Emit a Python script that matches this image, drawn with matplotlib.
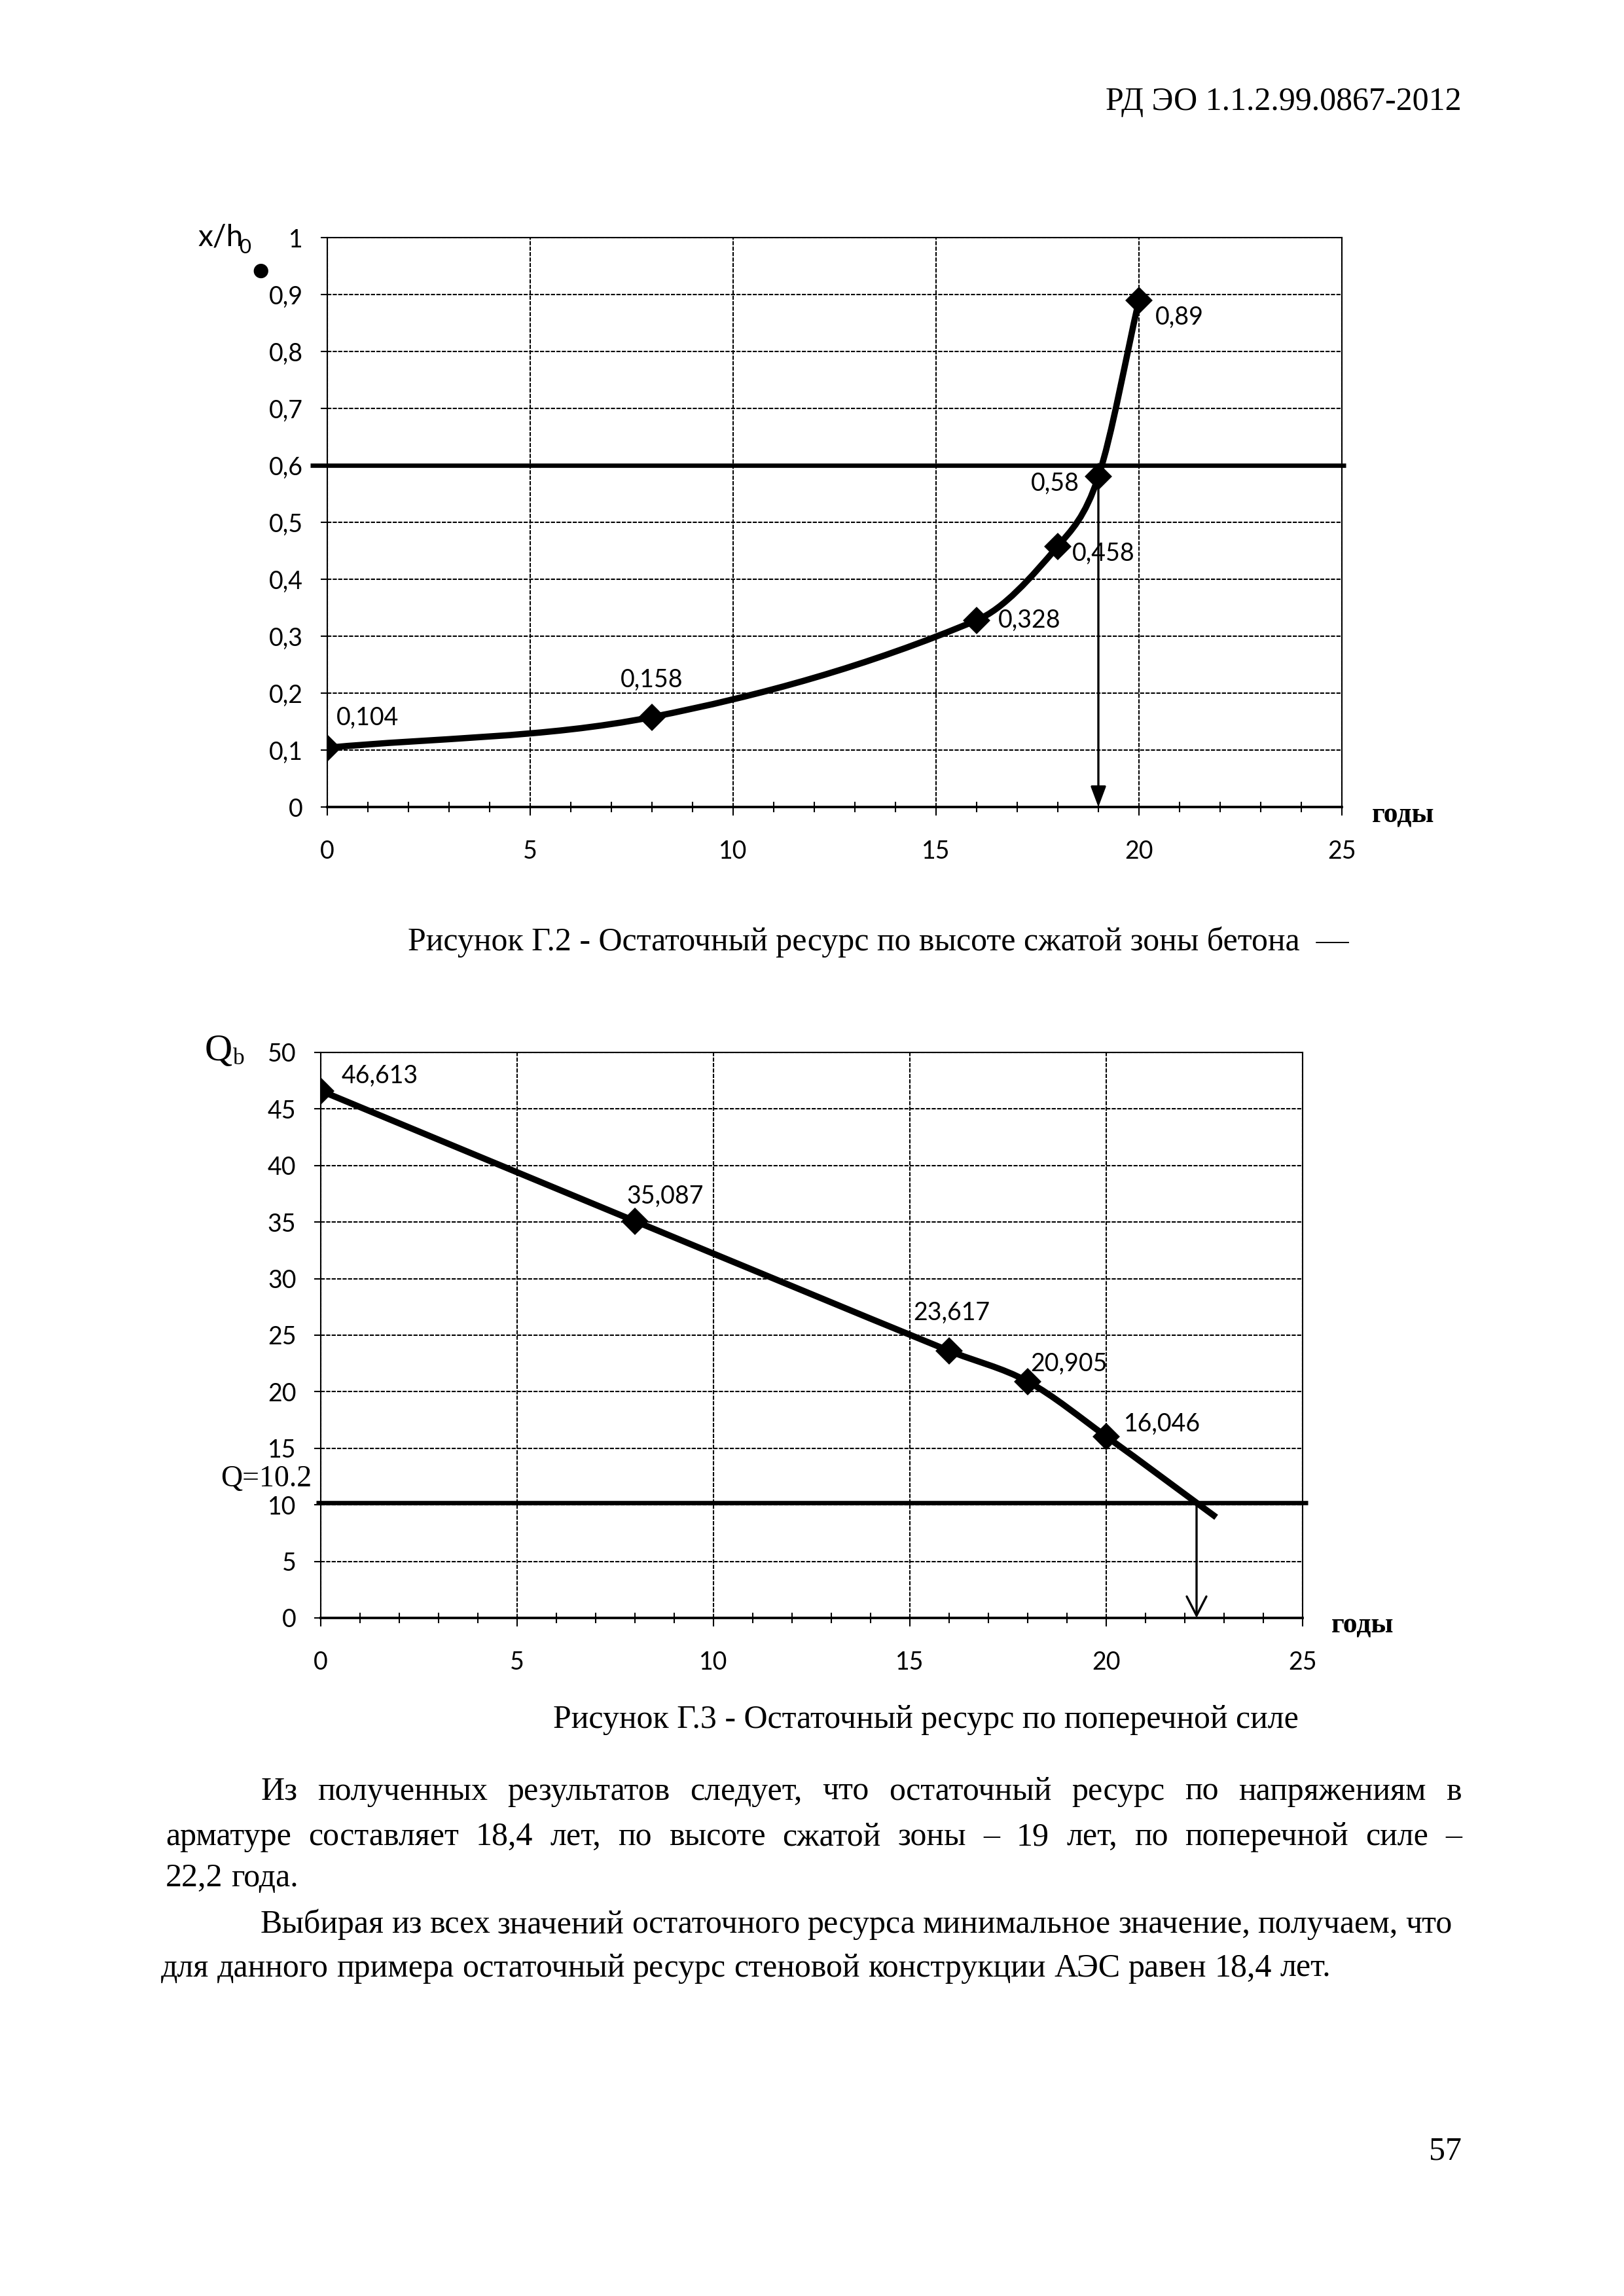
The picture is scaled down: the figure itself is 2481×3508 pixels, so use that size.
import numpy as np
import matplotlib
matplotlib.use('Agg')
import matplotlib.pyplot as plt
from matplotlib.path import Path
from matplotlib.patches import PathPatch
from matplotlib.ticker import MultipleLocator, FuncFormatter

# ---------------- data ----------------
years_xh = [0, 8, 16, 18, 19, 20]
xh_values = [0.104, 0.158, 0.328, 0.458, 0.58, 0.89]
xh_labels = ['0,104', '0,158', '0,328', '0,458', '0,58', '0,89']
xh_limit = 0.6
xh_resource_year = 19

years_q = [0, 8, 16, 18, 20]
q_values = [46.613, 35.087, 23.617, 20.905, 16.046]
q_labels = ['46,613', '35,087', '23,617', '20,905', '16,046']
q_ext_year = 22.8
q_ext_value = 8.9
q_limit = 10.2
q_resource_year = 22.3

x_ticks = [0, 5, 10, 15, 20, 25]

# label offsets (points) and alignment
xh_label_offsets = [(3.4, 11), (0, 13.7), (8, 0), (5.3, -2.8), (-7, -2.4), (6, -6.3)]
xh_label_ha = ['left', 'center', 'left', 'left', 'right', 'left']
q_label_offsets = [(7.5, 5.4), (-3, 9), (-13.2, 14), (1, 6.5), (6.5, 4.6)]

W, H = 2481, 3508
fig = plt.figure(figsize=(W / 300, H / 300), dpi=300)
fig.patch.set_facecolor('white')

SANS = 'Lato'
SERIF = 'Liberation Serif'
GRID_LS = (0, (3, 1))


def smooth_path(xs, ys):
    """Cubic Hermite (as Bezier segments) through the points, y as a function of x."""
    x = np.asarray(xs, float)
    y = np.asarray(ys, float)
    n = len(x)
    m = np.zeros(n)
    for i in range(n):
        if i == 0:
            m[i] = (y[1] - y[0]) / (x[1] - x[0])
        elif i == n - 1:
            m[i] = (y[-1] - y[-2]) / (x[-1] - x[-2])
        else:
            m[i] = (y[i + 1] - y[i - 1]) / (x[i + 1] - x[i - 1])
    verts = [(x[0], y[0])]
    codes = [Path.MOVETO]
    for i in range(n - 1):
        h = x[i + 1] - x[i]
        verts += [(x[i] + h / 3, y[i] + m[i] * h / 3),
                  (x[i + 1] - h / 3, y[i + 1] - m[i + 1] * h / 3),
                  (x[i + 1], y[i + 1])]
        codes += [Path.CURVE4] * 3
    return Path(verts, codes)


def fmt(v, pos):
    return ('%g' % round(v, 6)).replace('.', ',')


def style_axes(ax, ymax, ystep):
    ax.set_xlim(0, 25)
    ax.set_ylim(0, ymax)
    ax.set_xticks(x_ticks)
    ax.xaxis.set_minor_locator(MultipleLocator(1))
    ax.yaxis.set_major_locator(MultipleLocator(ystep))
    ax.xaxis.set_major_formatter(FuncFormatter(fmt))
    ax.yaxis.set_major_formatter(FuncFormatter(fmt))
    ax.grid(True, which='major', color='black', lw=0.5, ls=GRID_LS)
    ax.tick_params(axis='x', which='major', direction='out', length=3, width=0.5,
                   pad=9, labelsize=9)
    ax.tick_params(axis='x', which='minor', direction='inout', length=4, width=0.5)
    ax.tick_params(axis='y', which='major', direction='out', length=2.5, width=0.5,
                   pad=6.5, labelsize=9)
    for lab in ax.get_xticklabels() + ax.get_yticklabels():
        lab.set_fontfamily(SANS)
    for s in ['left', 'top', 'right']:
        ax.spines[s].set_linestyle(GRID_LS)
        ax.spines[s].set_linewidth(0.5)
    ax.spines['bottom'].set_linewidth(0.9)
    ax.set_axisbelow(True)


# ---------------- chart 1 ----------------
ax1 = fig.add_axes([500 / W, 1 - 1233 / H, 1550 / W, 870 / H])
style_axes(ax1, 1, 0.1)
ax1.plot([-0.42, 25.1], [xh_limit, xh_limit], color='black', lw=1.6, clip_on=False,
         solid_capstyle='butt', zorder=3)
ax1.add_patch(PathPatch(smooth_path(years_xh, xh_values), facecolor='none',
                        edgecolor='black', lw=2.3, zorder=4))
ax1.plot(years_xh, xh_values, ls='none', marker='D', ms=6, color='black', zorder=5)
for xv, yv, lab, off, ha in zip(years_xh, xh_values, xh_labels, xh_label_offsets, xh_label_ha):
    ax1.annotate(lab, (xv, yv), xytext=off, textcoords='offset points', ha=ha, va='center',
                 fontsize=9, family=SANS, zorder=6)
ax1.annotate('', xy=(xh_resource_year, 0), xytext=(xh_resource_year, xh_values[4]),
             arrowprops=dict(arrowstyle='-|>,head_length=0.32,head_width=0.12',
                             color='black', lw=0.8, shrinkA=0, shrinkB=0, mutation_scale=20),
             annotation_clip=False, zorder=6)

fig.text(302 / W, 1 - 362 / H, 'x/h', fontsize=11, family=SANS, ha='left', va='center')
fig.text(365 / W, 1 - 378 / H, '0', fontsize=7.5, family=SANS, ha='left', va='center')
fig.text(398 / W, 1 - 414 / H, '●', fontsize=7, family='DejaVu Sans', ha='center', va='center')
fig.text(2096 / W, 1 - 1246 / H, 'годы', fontsize=10.5, family=SERIF, weight='bold',
         ha='left', va='center')

# ---------------- chart 2 ----------------
ax2 = fig.add_axes([490 / W, 1 - 2472 / H, 1500 / W, 864 / H])
style_axes(ax2, 50, 5)
ax2.plot([-0.12, 25.13], [q_limit, q_limit], color='black', lw=1.6, clip_on=False,
         solid_capstyle='butt', zorder=3)
ax2.add_patch(PathPatch(smooth_path(years_q + [q_ext_year], q_values + [q_ext_value]),
                        facecolor='none', edgecolor='black', lw=2.3, zorder=4))
ax2.plot(years_q, q_values, ls='none', marker='D', ms=6, color='black', zorder=5)
for xv, yv, lab, off in zip(years_q, q_values, q_labels, q_label_offsets):
    ax2.annotate(lab, (xv, yv), xytext=off, textcoords='offset points', ha='left', va='center',
                 fontsize=9, family=SANS, zorder=6)
ax2.annotate('', xy=(q_resource_year, 0), xytext=(q_resource_year, q_limit),
             arrowprops=dict(arrowstyle='->,head_length=0.35,head_width=0.18',
                             color='black', lw=0.8, shrinkA=0, shrinkB=0, mutation_scale=20),
             annotation_clip=False, zorder=6)

fig.text(313 / W, 1 - 1606 / H, 'Q', fontsize=14, family=SERIF, ha='left', va='center')
fig.text(356 / W, 1 - 1617 / H, 'b', fontsize=8.5, family=SERIF, ha='left', va='center')
fig.text(476 / W, 1 - 2260 / H, 'Q=10.2', fontsize=11, family=SERIF, ha='right', va='center')
fig.text(2034 / W, 1 - 2483 / H, 'годы', fontsize=10.5, family=SERIF, weight='bold',
         ha='left', va='center')

# ---------------- page texts ----------------
fig.text(2233 / W, 1 - 168 / H, 'РД ЭО 1.1.2.99.0867-2012', fontsize=12, family=SERIF,
         ha='right', va='baseline')
fig.text(1342 / W, 1 - 1452 / H,
         'Рисунок Г.2 - Остаточный ресурс по высоте сжатой зоны бетона  —',
         fontsize=12, family=SERIF, ha='center', va='baseline')
fig.text(1414 / W, 1 - 2640 / H, 'Рисунок Г.3 - Остаточный ресурс по поперечной силе',
         fontsize=12, family=SERIF, ha='center', va='baseline')
fig.text(2233 / W, 1 - 3300 / H, '57', fontsize=12, family=SERIF, ha='right', va='baseline')

renderer = fig.canvas.get_renderer()


def put_line(line, x0, x1, y, justify=True, size=12):
    words = line.split(' ')
    texts = [fig.text(0, y, w, fontsize=size, family=SERIF, ha='left', va='baseline')
             for w in words]
    widths = [t.get_window_extent(renderer).width / fig.bbox.width for t in texts]
    if justify and len(words) > 1:
        gap = (x1 - x0 - sum(widths)) / (len(words) - 1)
    else:
        sp = fig.text(0, y, 'a a', fontsize=size, family=SERIF)
        sa = fig.text(0, y, 'aa', fontsize=size, family=SERIF)
        gap = (sp.get_window_extent(renderer).width - sa.get_window_extent(renderer).width) / fig.bbox.width
        sp.remove(); sa.remove()
    x = x0
    for t, w in zip(texts, widths):
        t.set_x(x)
        x += w + gap


body_lines = [
    ('Из полученных результатов следует, что остаточный ресурс по напряжениям в', 398, 2233, 2750, True),
    ('арматуре составляет 18,4 лет, по высоте сжатой зоны – 19 лет, по поперечной силе –', 253, 2233, 2819, True),
    ('22,2 года.', 253, 2233, 2882, False),
    ('Выбирая из всех значений остаточного ресурса минимальное значение, получаем, что', 398, 2218, 2953, True),
    ('для данного примера остаточный ресурс стеновой конструкции АЭС равен 18,4 лет.', 246, 2233, 3020, False),
]
for line, x0, x1, y, j in body_lines:
    put_line(line, x0 / W, x1 / W, 1 - y / H, justify=j)

fig.savefig('out.png', dpi=300, facecolor='white')
